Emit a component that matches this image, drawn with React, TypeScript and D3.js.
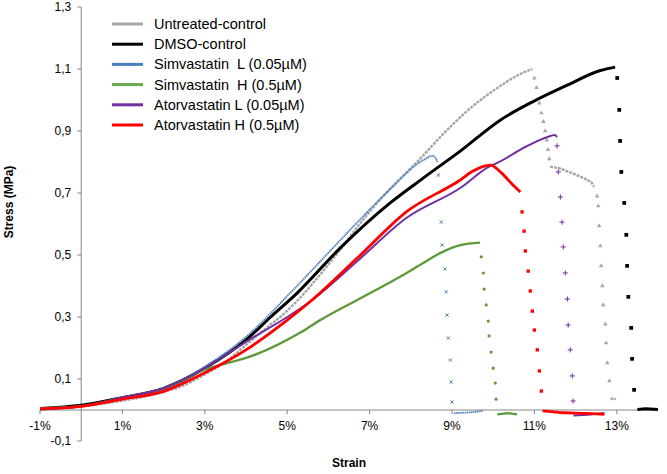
import React from 'react';
import * as d3 from 'd3';

// strain (%) / stress (MPa)
const untreatedLine: [number, number][] = [[-1, 0.0], [0, 0.012], [1, 0.03], [1.6, 0.045], [2, 0.058], [2.5, 0.08], [3, 0.115], [3.5, 0.155], [4, 0.21], [4.5, 0.265], [5, 0.32], [5.3, 0.36], [5.63, 0.41], [6.36, 0.53], [6.7, 0.59], [7.33, 0.69], [8.15, 0.8], [8.88, 0.903], [9.37, 0.965], [10.17, 1.045], [10.6, 1.08], [10.95, 1.1]];
const untreatedDrop1: [number, number][] = [[11.0, 1.07], [11.05, 1.04], [11.12, 0.99], [11.17, 0.958], [11.22, 0.93], [11.26, 0.9], [11.3, 0.87], [11.33, 0.84], [11.36, 0.81]];
const untreatedMid: [number, number][] = [[11.38, 0.785], [11.6, 0.78], [11.9, 0.765], [12.2, 0.748], [12.38, 0.735], [12.45, 0.72]];
const untreatedDrop2: [number, number][] = [[12.52, 0.69], [12.55, 0.658], [12.57, 0.594], [12.6, 0.529], [12.62, 0.465], [12.65, 0.4], [12.67, 0.339], [12.72, 0.277], [12.74, 0.216], [12.77, 0.152], [12.82, 0.094]];
const untreatedTail: [number, number][] = [[12.85, 0.035], [12.92, 0.037], [12.98, 0.034]];

const dmsoLine: [number, number][] = [[-1, 0.005], [0, 0.015], [1, 0.04], [2, 0.07], [3, 0.135], [4, 0.226], [4.6, 0.3], [5.24, 0.377], [6.29, 0.523], [7.5, 0.668], [8.3, 0.748], [9.2, 0.835], [10.17, 0.935], [10.97, 0.995], [11.8, 1.048], [12.6, 1.095], [12.96, 1.106]];
const dmsoDrop: [number, number][] = [[13.01, 1.071], [13.06, 0.968], [13.08, 0.868], [13.11, 0.768], [13.18, 0.668], [13.23, 0.565], [13.25, 0.465], [13.28, 0.365], [13.35, 0.265], [13.37, 0.165], [13.42, 0.065]];
const dmsoTail: [number, number][] = [[13.5, 0.002], [13.7, 0.004], [14.0, 0.002]];

const simLLine: [number, number][] = [[-1, 0.003], [0, 0.012], [1, 0.035], [2, 0.07], [3, 0.14], [4, 0.236], [5.07, 0.377], [5.63, 0.455], [6.29, 0.548], [7.43, 0.703], [8.3, 0.806], [8.54, 0.82], [8.65, 0.8]];
const simLDrop: [number, number][] = [[8.67, 0.758], [8.74, 0.606], [8.76, 0.532], [8.83, 0.455], [8.86, 0.381], [8.88, 0.306], [8.91, 0.232], [8.96, 0.161], [8.98, 0.09], [9.0, 0.026]];
const simLTail: [number, number][] = [[9.05, -0.01], [9.4, -0.008], [9.75, -0.003]];

const simHLine: [number, number][] = [[-1, 0.005], [0, 0.012], [1, 0.04], [2, 0.068], [3, 0.13], [3.5, 0.15], [4, 0.168], [5.32, 0.25], [5.8, 0.29], [6.7, 0.355], [7.74, 0.43], [8.3, 0.474], [8.71, 0.506], [9.2, 0.532], [9.68, 0.54]];
const simHDrop: [number, number][] = [[9.71, 0.494], [9.76, 0.442], [9.78, 0.39], [9.83, 0.339], [9.88, 0.287], [9.9, 0.239], [9.95, 0.187], [10.0, 0.135], [10.05, 0.087], [10.07, 0.035]];
const simHTail: [number, number][] = [[10.1, -0.014], [10.35, -0.01], [10.58, -0.014]];

const atorLLine: [number, number][] = [[-1, 0.002], [0, 0.012], [1, 0.04], [2, 0.07], [3, 0.135], [4, 0.22], [5, 0.3], [5.56, 0.35], [6.7, 0.48], [7.9, 0.62], [9.2, 0.716], [9.9, 0.785], [10.1, 0.797], [10.8, 0.85], [11.3, 0.88], [11.5, 0.887], [11.55, 0.88]];
const atorLDrop: [number, number][] = [[11.55, 0.852], [11.58, 0.768], [11.63, 0.687], [11.67, 0.606], [11.7, 0.526], [11.75, 0.442], [11.8, 0.358], [11.82, 0.274], [11.87, 0.194], [11.92, 0.11], [11.94, 0.029]];
const atorLTail: [number, number][] = [[11.95, -0.018], [12.3, -0.015], [12.7, -0.01]];

const atorHLine: [number, number][] = [[-1, 0.004], [0, 0.012], [1, 0.035], [2, 0.06], [3, 0.12], [4, 0.194], [5, 0.29], [5.56, 0.35], [6.7, 0.49], [7.9, 0.64], [9.2, 0.742], [9.5, 0.77], [9.93, 0.79], [10.2, 0.765], [10.45, 0.73], [10.66, 0.703]];
const atorHDrop: [number, number][] = [[10.7, 0.639], [10.75, 0.577], [10.78, 0.513], [10.85, 0.448], [10.9, 0.384], [10.95, 0.319], [11.0, 0.258], [11.07, 0.194], [11.12, 0.126], [11.17, 0.061]];
const atorHTail: [number, number][] = [[11.2, -0.003], [11.6, -0.008], [12.0, -0.01], [12.4, -0.012], [12.7, -0.014]];

const xTicks = [-1, 1, 3, 5, 7, 9, 11, 13];
const yTicks = [-0.1, 0.1, 0.3, 0.5, 0.7, 0.9, 1.1, 1.3];
const legendNames = ['Untreated-control', 'DMSO-control', 'Simvastatin  L (0.05\u00b5M)', 'Simvastatin  H (0.5\u00b5M)', 'Atorvastatin L (0.05\u00b5M)', 'Atorvastatin H (0.5\u00b5M)'];

const x = d3.scaleLinear().domain([-1, 14]).range([40, 658]);
const y = d3.scaleLinear().domain([-0.1, 1.3]).range([441, 7]);
const line = d3.line<[number, number]>().x(d => x(d[0])).y(d => y(d[1])).curve(d3.curveMonotoneX);
const straight = d3.line<[number, number]>().x(d => x(d[0])).y(d => y(d[1]));

type Series = {
  color: string;
  width: number;
  dash?: string;
  parts: [number, number][][];
  drops: [number, number][][];
  symbol: d3.SymbolType;
  size: number;
  stroke?: boolean;
};

const series: Series[] = [
  { color: '#a6a6a6', width: 2.4, dash: '3 1', parts: [untreatedLine, untreatedMid, untreatedTail], drops: [untreatedDrop1, untreatedDrop2], symbol: d3.symbolTriangle, size: 9 },
  { color: '#000000', width: 3, parts: [dmsoLine, dmsoTail], drops: [dmsoDrop], symbol: d3.symbolSquare, size: 14 },
  { color: '#4a7ebb', width: 1.8, dash: '1.5 0.6', parts: [simLLine, simLTail], drops: [simLDrop], symbol: d3.symbolX, size: 8, stroke: true },
  { color: '#5f9a3a', width: 2.4, parts: [simHLine, simHTail], drops: [simHDrop], symbol: d3.symbolCircle, size: 8 },
  { color: '#7030a0', width: 2, parts: [atorLLine, atorLTail], drops: [atorLDrop], symbol: d3.symbolPlus, size: 10, stroke: true },
  { color: '#ff0000', width: 2.8, parts: [atorHLine, atorHTail], drops: [atorHDrop], symbol: d3.symbolSquare, size: 11 },
];

const legendColors = ['#a6a6a6', '#000000', '#4a7ebb', '#6aa84f', '#7030a0', '#ff0000'];

const fmt = (v: number) => d3.format('.1f')(v).replace('.', ',').replace('\u2212', '-');

export default function App() {
  const font = '"Liberation Sans", Arial, sans-serif';
  return (
    <svg width={667} height={474} style={{ position: 'absolute', left: 0, top: 0, background: '#fff' }} fontFamily={font}>
      {/* axes */}
      <line x1={x(0)} x2={x(0)} y1={y(1.3)} y2={y(-0.1)} stroke="#868686" strokeWidth={1} />
      <line x1={x(-1)} x2={x(14)} y1={y(0)} y2={y(0)} stroke="#868686" strokeWidth={1} />
      {yTicks.map(t => (
        <g key={t}>
          <line x1={x(0) - 4} x2={x(0)} y1={y(t)} y2={y(t)} stroke="#868686" />
          <text x={x(0) - 10} y={y(t)} dy="0.35em" textAnchor="end" fontSize={12} fill="#000">{fmt(t)}</text>
        </g>
      ))}
      {xTicks.map(t => (
        <g key={t}>
          <line x1={x(t)} x2={x(t)} y1={y(0)} y2={y(0) + 4} stroke="#868686" />
          <text x={x(t)} y={y(0) + 20} textAnchor="middle" fontSize={12} fill="#000">{t}%</text>
        </g>
      ))}
      <text x={x(6.5)} y={467} textAnchor="middle" fontSize={12} fontWeight="bold">Strain</text>
      <text transform="translate(13, 202) rotate(-90)" textAnchor="middle" fontSize={12} fontWeight="bold">Stress (MPa)</text>

      {/* series */}
      {series.map((s, i) => (
        <g key={i}>
          {s.parts.map((p, j) => (
            <path key={j} d={(j === 0 ? line(p) : straight(p)) || ''} fill="none" stroke={s.color} strokeWidth={s.width} strokeDasharray={s.dash} strokeLinejoin="round" />
          ))}
          {s.drops.flat().map((d, k) => (
            <path key={'m' + k} transform={`translate(${x(d[0])},${y(d[1])})`} d={d3.symbol(s.symbol, s.size)() || ''}
              fill={s.stroke ? 'none' : s.color} stroke={s.stroke ? s.color : 'none'} strokeWidth={1} />
          ))}
        </g>
      ))}

      {/* legend */}
      {legendNames.map((n, i) => (
        <g key={n} transform={`translate(112, ${24 + i * 20.2})`}>
          <line x1={0} x2={31} y1={0} y2={0} stroke={legendColors[i]} strokeWidth={3} />
          <text x={42} y={0} dy="0.35em" fontSize={14.5} fill="#000" style={{ whiteSpace: 'pre' }}>{n}</text>
        </g>
      ))}
    </svg>
  );
}
